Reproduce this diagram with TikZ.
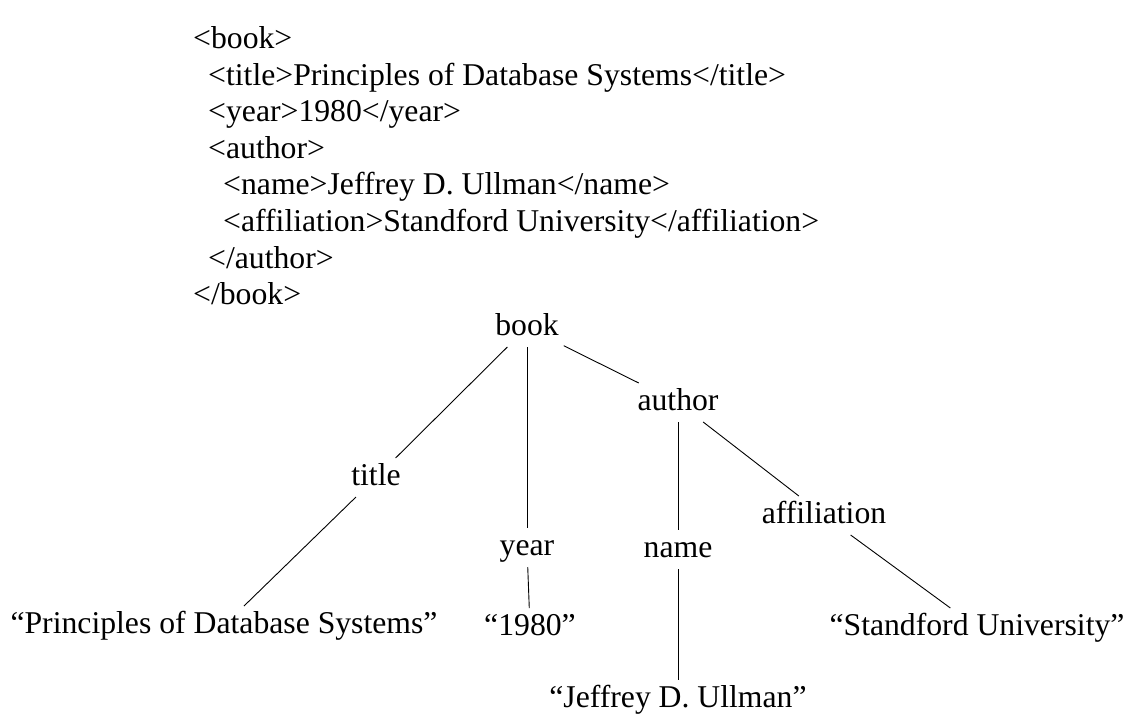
\documentclass[tikz,border=0pt]{standalone}
\usepackage{fontspec}
\setmainfont{Liberation Serif}
\usetikzlibrary{positioning}

\begin{document}
\begin{tikzpicture}[x=1pt, y=-1pt,
	every node/.style={font=\fontsize{31.7}{36.5}\selectfont},
	xmlline/.style={anchor=base west, inner sep=0pt},
	elem/.style={anchor=base, inner sep=0pt, outer sep=5pt, text height=22pt, text depth=7pt},
	edge/.style={line width=0.9pt}]
	\useasboundingbox (0,0) rectangle (1135,716);
	% XML SOURCE
	\node[xmlline] (xbook)    at (193,48.5)  {<book>};
	\node[xmlline] (xtitle)   at (208,85.1)  {<title>Principles of Database Systems</title>};
	\node[xmlline] (xyear)    at (208,121.7) {<year>1980</year>};
	\node[xmlline] (xauthor)  at (208,158.3) {<author>};
	\node[xmlline] (xname)    at (223,194.9) {<name>Jeffrey D. Ullman</name>};
	\node[xmlline] (xaffil)   at (223,231.5) {<affiliation>Standford University</affiliation>};
	\node[xmlline] (xauthend) at (208,268.1) {</author>};
	\node[xmlline] (xbookend) at (193,304.7) {</book>};
	% TREE
	\node[elem] (book)   at (527,335) {book};
	\node[elem] (title)  at (376,485) {title};
	\node[elem] (year)   at (527,555) {year};
	\node[elem] (author) at (678,410) {author};
	\node[elem] (name)   at (678,557) {name};
	\node[elem] (affil)  at (824,523) {affiliation};
	\node[elem] (vtitle) at (224,633) {“Principles of Database Systems”};
	\node[elem] (vyear)  at (530,635) {“1980”};
	\node[elem] (vname)  at (678,707) {“Jeffrey D. Ullman”};
	\node[elem] (vaffil) at (977,635) {“Standford University”};
	% EDGES
	\draw[edge] (book) -- (title);
	\draw[edge] (book) -- (year);
	\draw[edge] (book) -- (author);
	\draw[edge] (author) -- (name);
	\draw[edge] (author) -- (affil);
	\draw[edge] (title) -- (vtitle);
	\draw[edge] (year) -- (vyear);
	\draw[edge] (name) -- (vname);
	\draw[edge] (affil) -- (vaffil);
\end{tikzpicture}
\end{document}
